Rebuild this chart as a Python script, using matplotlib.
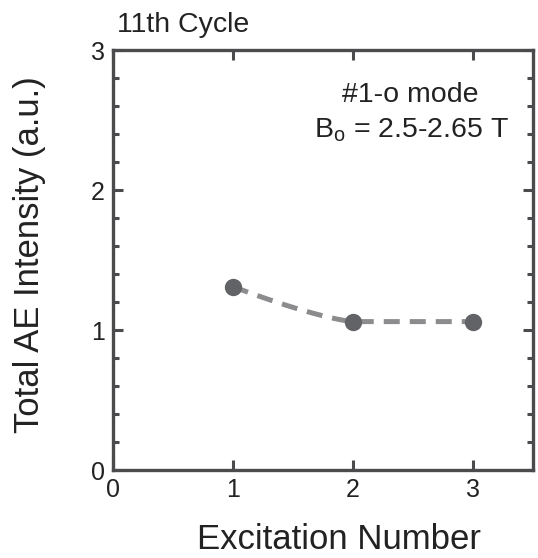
import numpy as np
import matplotlib
matplotlib.use("Agg")
import matplotlib.pyplot as plt
from matplotlib.ticker import MultipleLocator

plt.rcParams['font.family'] = ['Liberation Sans', 'DejaVu Sans']
plt.rcParams['mathtext.fontset'] = 'custom'
plt.rcParams['mathtext.rm'] = 'Liberation Sans'
plt.rcParams['mathtext.it'] = 'Liberation Sans'

# data
excitation = [1, 2, 3]
intensity = [1.31, 1.06, 1.06]
x_ticks = [0, 1, 2, 3]
y_ticks = [0, 1, 2, 3]
title_text = "11th Cycle"
annot_line1 = "#1-o mode"
annot_line2 = r"B$_\mathrm{o}$ = 2.5-2.65 T"

spine_c = '#4b4b4d'
text_c = '#222222'

fig = plt.figure(figsize=(5.38, 5.58), dpi=100)
ax = fig.add_axes([113/538, 1-470/558, 420/538, 420/558])

# smooth guide curve: eases from first point to second, then flat
x1, x2 = excitation[0], excitation[1]
y1, y2 = intensity[0], intensity[1]
xs_a = np.linspace(x1, x2, 60)
ys_a = y2 + (y1 - y2) * ((x2 - xs_a) / (x2 - x1)) ** 1.3
xs_b = np.linspace(excitation[1], excitation[2], 30)
ys_b = np.interp(xs_b, excitation[1:], intensity[1:])
xs = np.concatenate([xs_a, xs_b[1:]])
ys = np.concatenate([ys_a, ys_b[1:]])
ax.plot(xs, ys, color='#8c8c8e', lw=3.6, dashes=(3.2, 2.0), zorder=2)
ax.plot(excitation, intensity, 'o', color='#626366', ms=12.5, mec='none', zorder=3)

ax.set_xlim(0, 3.5)
ax.set_ylim(0, 3)
ax.set_xticks(x_ticks)
ax.set_yticks(y_ticks)
ax.yaxis.set_minor_locator(MultipleLocator(0.2))
for s in ax.spines.values():
    s.set_linewidth(2.4)
    s.set_color(spine_c)
ax.tick_params(which='both', direction='in', top=True, right=True,
               color=spine_c, labelcolor=text_c)
ax.tick_params(which='major', length=7, width=2.2, labelsize=18, pad=6)
ax.tick_params(which='minor', length=4, width=2.2)

fig.text(30/538, 1-255/558, "Total AE Intensity (a.u.)", rotation=90,
         ha='center', va='center', fontsize=25, color=text_c)
fig.text(339/538, 1-549/558, "Excitation Number", ha='center', va='baseline',
         fontsize=25, color=text_c)
fig.text(117/538, 1-32/558, title_text, ha='left', va='baseline',
         fontsize=20.5, color=text_c)
fig.text(410/538, 1-102/558, annot_line1, ha='center', va='baseline',
         fontsize=20.5, color=text_c)
fig.text(411/538, 1-137/558, annot_line2, ha='center', va='baseline',
         fontsize=20.5, color=text_c)

fig.savefig("out.png", dpi=100)
